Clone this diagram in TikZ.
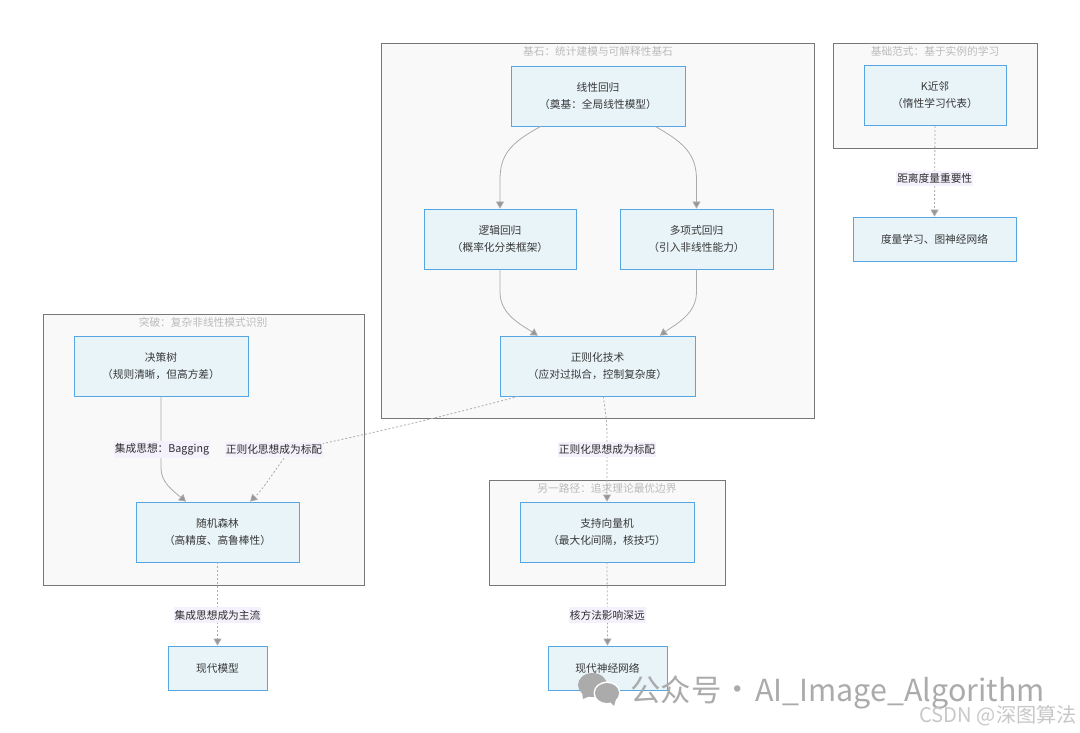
\documentclass[tikz,border=0pt]{standalone}
\usepackage{fontspec}
\setmainfont{Noto Sans CJK SC}
\usetikzlibrary{arrows.meta}
\definecolor{groupfill}{HTML}{F9F9F9}
\definecolor{groupline}{HTML}{777777}
\definecolor{grouptext}{HTML}{BBBBBB}
\definecolor{boxfill}{HTML}{E8F4F8}
\definecolor{boxline}{HTML}{55A6E2}
\definecolor{edgeline}{HTML}{ABABAB}
\definecolor{labfill}{HTML}{F4F0FC}
\definecolor{marktext}{HTML}{ABABAB}
\tikzset{
	groupbox/.style={draw=groupline,fill=groupfill,line width=0.9pt,inner sep=0pt},
	grouptitle/.style={text=grouptext,font=\fontsize{10.7}{13}\selectfont,inner sep=0pt},
	algobox/.style={draw=boxline,fill=boxfill,line width=0.8pt,inner sep=0pt,align=center,text=black!78,font=\fontsize{10.7}{17}\selectfont},
	edgelab/.style={fill=labfill,text=black!82,font=\fontsize{10.7}{13}\selectfont,inner xsep=1pt,inner ysep=3pt},
	solidedge/.style={draw=edgeline,line width=0.8pt,-{Triangle[length=7pt,width=8pt,fill=edgeline!88!black]}},
	dotedge/.style={solidedge,dash pattern=on 2pt off 2pt},
	markbig/.style={text=marktext,font=\fontsize{30.4}{32}\selectfont,inner sep=0pt,anchor=west}
}

\begin{document}
\begin{tikzpicture}[x=1pt,y=-1pt]
		\useasboundingbox[fill=white] (0,0) rectangle (1080,733);

		\node[groupbox,minimum width=433pt,minimum height=375pt] (base) at (598,230.5) {};
		\node[groupbox,minimum width=204pt,minimum height=105pt] (inst) at (935,95.5) {};
		\node[groupbox,minimum width=321pt,minimum height=271pt] (tree) at (203.5,449.5) {};
		\node[groupbox,minimum width=236pt,minimum height=105pt] (path) at (607,532.5) {};

		\node[grouptitle] (baset) at (598,51) {基石：统计建模与可解释性基石};
		\node[grouptitle] (instt) at (935,51) {基础范式：基于实例的学习};
		\node[grouptitle] (treet) at (203,322) {突破：复杂非线性模式识别};
		\node[grouptitle] (patht) at (607,488) {另一路径：追求理论最优边界};

		\node[algobox,minimum width=174pt,minimum height=60pt] (lin) at (598,96) {线性回归\\（奠基：全局线性模型）};
		\node[algobox,minimum width=152pt,minimum height=60pt] (logi) at (500,239) {逻辑回归\\（概率化分类框架）};
		\node[algobox,minimum width=153pt,minimum height=60pt] (poly) at (696.5,239) {多项式回归\\（引入非线性能力）};
		\node[algobox,minimum width=195pt,minimum height=60pt] (reg) at (597.5,366) {正则化技术\\（应对过拟合，控制复杂度）};
		\node[algobox,minimum width=142pt,minimum height=60pt] (knn) at (935,95.5) {K近邻\\（惰性学习代表）};
		\node[algobox,minimum width=163pt,minimum height=44pt] (metric) at (934.5,239) {度量学习、图神经网络};
		\node[algobox,minimum width=174pt,minimum height=60pt] (dtree) at (161,366) {决策树\\（规则清晰，但高方差）};
		\node[algobox,minimum width=163pt,minimum height=60pt] (forest) at (217.5,532) {随机森林\\（高精度、高鲁棒性）};
		\node[algobox,minimum width=174pt,minimum height=60pt] (svm) at (607,532) {支持向量机\\（最大化间隔，核技巧）};
		\node[algobox,minimum width=99pt,minimum height=44pt] (modern) at (217.5,668) {现代模型};
		\node[algobox,minimum width=119pt,minimum height=44pt] (neural) at (607.5,668) {现代神经网络};

		\draw[solidedge] (lin.-152) .. controls (510,143) and (500,155) .. (500,180) to (logi.north);
		\draw[solidedge] (lin.-28) .. controls (685,143) and (696.5,155) .. (696.5,180) to (poly.north);
		\draw[solidedge] (logi.south) to (500,292) .. controls (500,314) and (520,324) .. (reg.153);
		\draw[solidedge] (poly.south) to (696.5,292) .. controls (696.5,314) and (676,324) .. (reg.26);
		\draw[solidedge] (dtree.south) to (161,468) .. controls (161,482) and (172,490) .. (forest.136) node[edgelab] (bagging) at (162,449.5) {集成思想：Bagging};
		\draw[dotedge] (reg.-159) .. controls (430,420) and (360,436) .. (292,450) .. controls (280,460) and (268,484) .. (forest.43) node[edgelab] (regtree) at (274,449.5) {正则化思想成为标配};
		\draw[dotedge] (reg.-79) .. controls (605,410) and (607,420) .. (607,435) to (svm.north) node[edgelab] (regsvm) at (607,449.5) {正则化思想成为标配};
		\draw[dotedge] (forest.south) to node[edgelab,pos=0.635] (ensemble) {集成思想成为主流} (modern.north);
		\draw[dotedge] (svm.south) to node[edgelab,pos=0.635] (kernel) {核方法影响深远} (neural.north);
		\draw[dotedge] (knn.south) to node[edgelab,pos=0.58] (dist) {距离度量重要性} (metric.north);

		\fill[marktext] (592.5,685) ellipse (14.5pt and 12pt);
		\fill[marktext] (582,692) -- (590,696) -- (583,699) -- cycle;
		\fill[white] (607,693) ellipse (13.5pt and 11.5pt);
		\fill[marktext] (607,693) ellipse (12pt and 10pt);
		\fill[marktext] (609,701) -- (616,699) -- (614,706) -- cycle;
		\node[markbig] (markcn) at (630,690) {公众号};
		\node[markbig] (markdot) at (722,693) {·};
		\node[markbig] (markname) at (755,693) {AI\_Image\_Algorithm};
		\node[text=marktext!65,font=\fontsize{20.2}{22}\selectfont,inner sep=0pt,anchor=east] (markcsdn) at (1077,716) {CSDN @深图算法};
\end{tikzpicture}
\end{document}
